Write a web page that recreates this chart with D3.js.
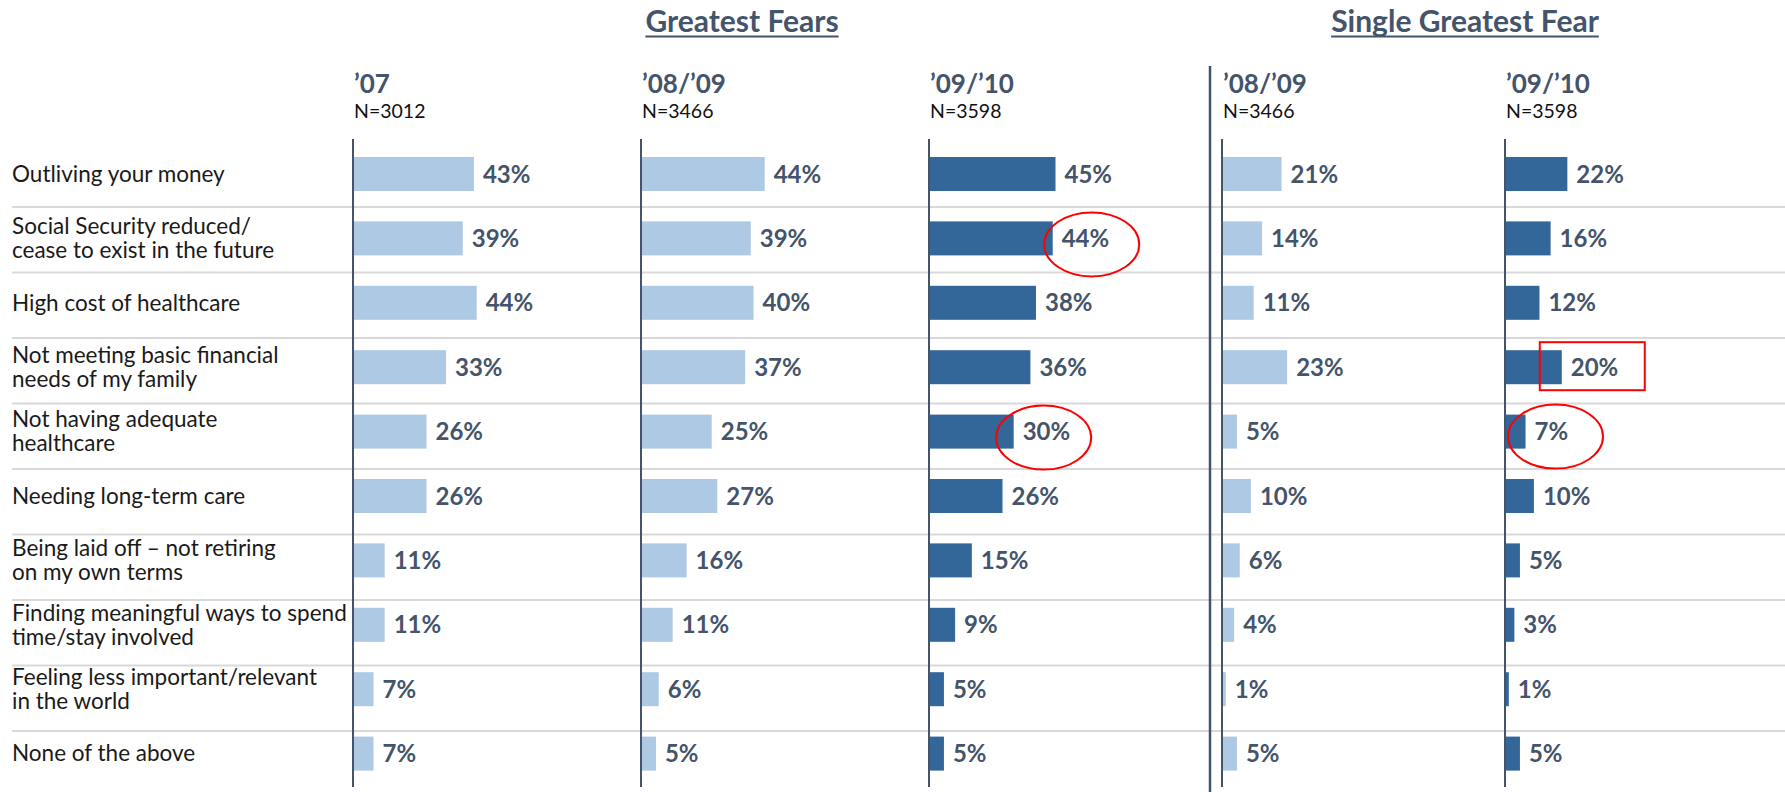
<!DOCTYPE html>
<html>
<head>
<meta charset="utf-8">
<script src="https://cdn.jsdelivr.net/npm/d3@7/dist/d3.min.js"></script>
<style>
  html, body { margin: 0; padding: 0; background: #ffffff; }
  svg { display: block; }
  text { font-family: Lato, "Open Sans", sans-serif; }
</style>
</head>
<body>
<svg id="chart" width="1785" height="792"></svg>
<script>
// Retirement fears, share of respondents per survey wave
const categories = [
  "Outliving your money",
  "Social Security reduced/\ncease to exist in the future",
  "High cost of healthcare",
  "Not meeting basic financial\nneeds of my family",
  "Not having adequate\nhealthcare",
  "Needing long-term care",
  "Being laid off \u2013 not retiring\non my own terms",
  "Finding meaningful ways to spend\ntime/stay involved",
  "Feeling less important/relevant\nin the world",
  "None of the above"
];

const greatest07   = [43, 39, 44, 33, 26, 26, 11, 11, 7, 7];
const greatest0809 = [44, 39, 40, 37, 25, 27, 16, 11, 6, 5];
const greatest0910 = [45, 44, 38, 36, 30, 26, 15, 9, 5, 5];
const single0809   = [21, 14, 11, 23, 5, 10, 6, 4, 1, 5];
const single0910   = [22, 16, 12, 20, 7, 10, 5, 3, 1, 5];

const waveLabels   = ["\u201907", "\u201908/\u201909", "\u201909/\u201910", "\u201908/\u201909", "\u201909/\u201910"];
const sampleLabels = ["N=3012", "N=3466", "N=3598", "N=3466", "N=3598"];
const groupTitles  = ["Greatest Fears", "Single Greatest Fear"];

// Highlighted answers: panel index, category index, shape
const highlightPanel    = [2, 2, 4, 4];
const highlightCategory = [1, 4, 4, 3];
const highlightShape    = ["ellipse", "ellipse", "ellipse", "rect"];

const series = [greatest07, greatest0809, greatest0910, single0809, single0910];

const LIGHT = "#adc9e4";
const DARK = "#336699";
const SLATE = "#44546a";

const panels = [
  { x0: 353,  fill: LIGHT },
  { x0: 641,  fill: LIGHT },
  { x0: 929,  fill: DARK },
  { x0: 1222, fill: LIGHT },
  { x0: 1505, fill: DARK }
];

// hand-placed nudges for the call-out shapes
const calloutNudge = [[40, 6], [31, 6], [31, 5], [0, 0]];

const svg = d3.select("#chart");

// value -> bar length (same units in every panel)
const len = d3.scaleLinear().domain([0, 45]).range([0, 125.5]);
// row centres
const y = d3.scalePoint().domain(d3.range(categories.length)).range([174, 753.6]);
// row divider lines
const ySep = d3.scaleLinear().domain([0, 8]).range([207, 731]);
const barH = 34;

// row dividers
svg.append("g").selectAll("line")
  .data(d3.range(categories.length - 1))
  .join("line")
  .attr("x1", 12).attr("x2", 1785)
  .attr("y1", d => ySep(d)).attr("y2", d => ySep(d))
  .attr("stroke", "#d9d9d9").attr("stroke-width", 2);

// category labels
const catG = svg.append("g");
categories.forEach((c, i) => {
  const lines = c.split("\n");
  const lh = 24;
  const t = catG.append("text")
    .attr("x", 12)
    .attr("y", y(i))
    .attr("font-size", 22.5)
    .attr("fill", "#1a1a1a");
  lines.forEach((ln, k) => {
    t.append("tspan")
      .attr("x", 12)
      .attr("y", y(i) + (k - (lines.length - 1) / 2) * lh)
      .attr("dy", "0.35em")
      .text(ln);
  });
});

// panels
panels.forEach((p, pi) => {
  const g = svg.append("g").attr("transform", `translate(${p.x0},0)`);
  const vals = series[pi];

  g.selectAll("rect.bar")
    .data(vals)
    .join("rect")
    .attr("class", "bar")
    .attr("x", 1)
    .attr("y", (d, i) => y(i) - barH / 2)
    .attr("width", d => len(d))
    .attr("height", barH)
    .attr("fill", p.fill);

  g.selectAll("text.val")
    .data(vals)
    .join("text")
    .attr("class", "val")
    .attr("x", d => len(d) + 10)
    .attr("y", (d, i) => y(i))
    .attr("dy", "0.36em")
    .attr("font-size", 24)
    .attr("font-weight", 700)
    .attr("fill", SLATE)
    .text(d => d + "%");

  // axis line
  g.append("line")
    .attr("x1", 0).attr("x2", 0)
    .attr("y1", 139).attr("y2", 787)
    .attr("stroke", SLATE).attr("stroke-width", 2);

  // wave header
  g.append("text")
    .attr("x", 1).attr("y", 93)
    .attr("font-size", 26).attr("font-weight", 700)
    .attr("fill", SLATE)
    .text(waveLabels[pi]);
  g.append("text")
    .attr("x", 1).attr("y", 118)
    .attr("font-size", 19.5)
    .attr("fill", "#111")
    .text(sampleLabels[pi]);
});

// divider between the two groups
svg.append("line")
  .attr("x1", 1210).attr("x2", 1210)
  .attr("y1", 66).attr("y2", 792)
  .attr("stroke", SLATE).attr("stroke-width", 2.5);

// group titles, underlined
const titleCentres = [742, 1465];
groupTitles.forEach((tt, k) => {
  const t = svg.append("text")
    .attr("x", titleCentres[k]).attr("y", 32)
    .attr("text-anchor", "middle")
    .attr("font-size", 30).attr("font-weight", 700)
    .attr("fill", SLATE)
    .text(tt);
  const w = t.node().getComputedTextLength();
  svg.append("line")
    .attr("x1", titleCentres[k] - w / 2).attr("x2", titleCentres[k] + w / 2)
    .attr("y1", 36.5).attr("y2", 36.5)
    .attr("stroke", SLATE).attr("stroke-width", 2);
});

// red call-outs around selected answers
const hl = svg.append("g");
highlightPanel.forEach((pi, h) => {
  const ci = highlightCategory[h];
  const x0 = panels[pi].x0 + len(series[pi][ci]);
  const cy = y(ci);
  const [dx, dy] = calloutNudge[h];
  if (highlightShape[h] === "ellipse") {
    hl.append("ellipse")
      .attr("cx", x0 + dx).attr("cy", cy + dy)
      .attr("rx", 47.5).attr("ry", 32)
      .attr("fill", "none").attr("stroke", "#ff0000").attr("stroke-width", 2);
  } else {
    hl.append("rect")
      .attr("x", x0 - 21).attr("y", cy - 25)
      .attr("width", 105).attr("height", 48)
      .attr("fill", "none").attr("stroke", "#ff0000").attr("stroke-width", 2);
  }
});
</script>
</body>
</html>
